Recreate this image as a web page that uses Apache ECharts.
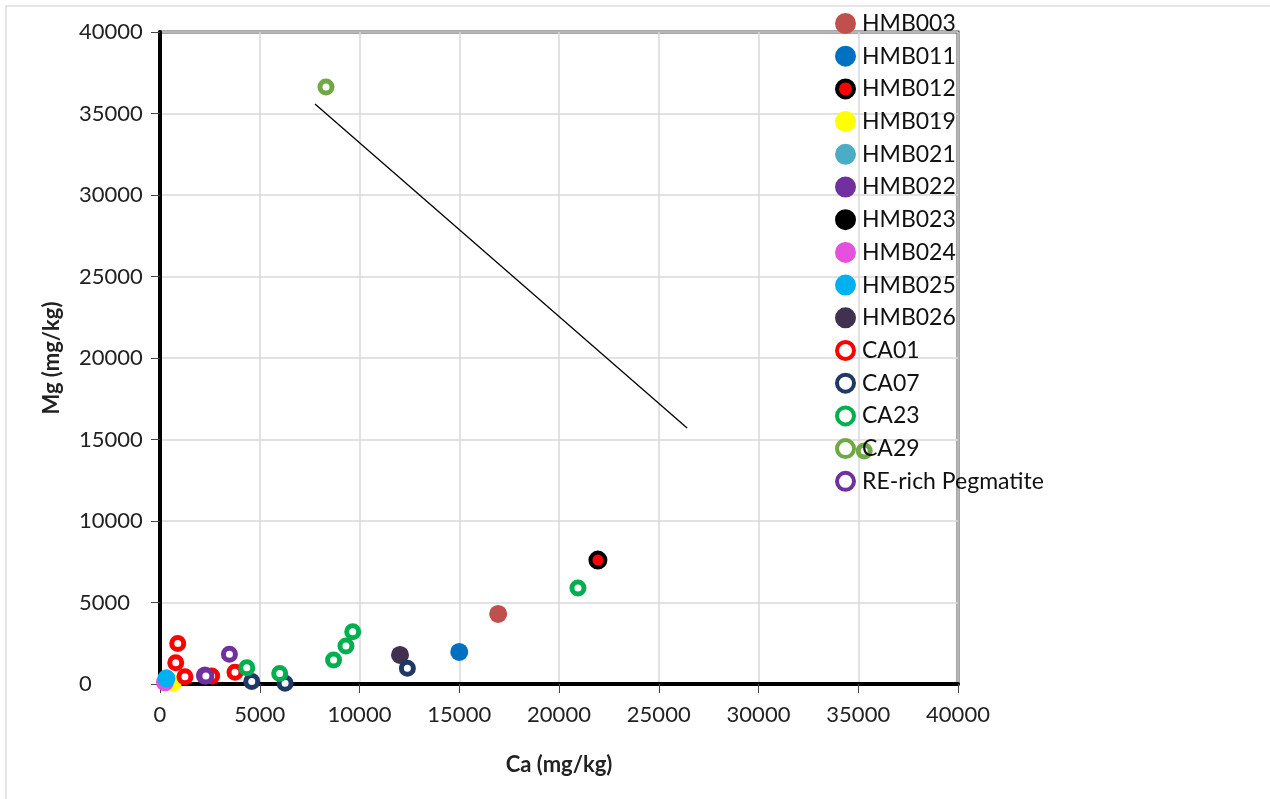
<!DOCTYPE html>
<html>
<head>
<meta charset="utf-8">
<script src="https://cdn.jsdelivr.net/npm/echarts@6/dist/echarts.min.js"></script>
<style>
  html,body{margin:0;padding:0;background:#fff;}
  #frame{position:absolute;left:5px;top:5px;width:1270px;height:799px;border-top:2px solid #e6e6e6;border-left:2px solid #e6e6e6;}
  #main{position:absolute;left:0;top:0;width:1270px;height:799px;}
</style>
</head>
<body>
<div id="frame"></div>
<div id="main"></div>
<script>
// Ca (x) vs Mg (y), mg/kg
var HMB003 = [[16950, 4300]];
var HMB011 = [[15000, 1970]];
var HMB012 = [[21950, 7600]];
var HMB019 = [[650, 80]];
var HMB021 = [];
var HMB022 = [[2250, 520]];
var HMB023 = [];
var HMB024 = [[250, 100]];
var HMB025 = [[320, 350]];
var HMB026 = [[12030, 1780]];
var CA01 = [[890, 2480], [790, 1300], [1250, 450], [2590, 490], [3760, 720]];
var CA07 = [[4600, 150], [6270, 40], [12400, 960]];
var CA23 = [[4350, 1000], [6000, 650], [8700, 1470], [9320, 2330], [9660, 3210], [20950, 5890]];
var CA29 = [[8320, 36630], [35300, 14290]];
var RE_rich = [[2300, 490], [3480, 1820]];
var trendLine = [[7770, 35580], [26420, 15700]];

var xTicks = [0, 40000, 5000];
var yTicks = [0, 40000, 5000];

var font = 'Lato';

function filled(name, data, color, border) {
    return {
        name: name, type: 'scatter', data: data, symbol: 'circle', symbolSize: border ? 15 : 18,
        itemStyle: {color: color, opacity: 1, borderColor: border || color, borderWidth: border ? 4 : 0}
    };
}
function ring(name, data, color) {
    return {
        name: name, type: 'scatter', data: data, symbol: 'circle', symbolSize: 12,
        itemStyle: {color: '#fff', opacity: 1, borderColor: color, borderWidth: 5}
    };
}
function plain(v) { return String(v); }

var series = [
    {name: 'line', type: 'line', data: trendLine, symbol: 'none', silent: true,
     lineStyle: {color: '#000', width: 1.3}, z: 1},
    filled('HMB003', HMB003, '#C0504D'),
    filled('HMB011', HMB011, '#0070C0'),
    filled('HMB012', HMB012, '#FF0000', '#000'),
    filled('HMB019', HMB019, '#FFFF00'),
    filled('HMB021', HMB021, '#4BACC6'),
    filled('HMB022', HMB022, '#7030A0'),
    filled('HMB023', HMB023, '#000000'),
    filled('HMB024', HMB024, '#E650DE'),
    filled('HMB025', HMB025, '#00B0F0'),
    filled('HMB026', HMB026, '#403151'),
    ring('CA01', CA01, '#FF0000'),
    ring('CA07', CA07, '#1F3864'),
    ring('CA23', CA23, '#00B050'),
    ring('CA29', CA29, '#70A845'),
    ring('RE-rich Pegmatite', RE_rich, '#7030A0')
];
// cyan point sits above the small ones under it
series[9].z = 3;

var chart = echarts.init(document.getElementById('main'));
var option = {
    animation: false,
    grid: {left: 160, right: 312, top: 32, bottom: 115, show: true, borderColor: '#505050', borderWidth: 3},
    legend: {
        orient: 'vertical', left: 830, top: 7, itemGap: 9.7, itemWidth: 17, itemHeight: 17,
        icon: 'circle', data: series.slice(1).map(function (s) { return s.name; }),
        itemStyle: {borderWidth: 4},
        textStyle: {fontFamily: font, fontSize: 23, color: '#111', padding: [0, 0, 0, 3]}
    },
    xAxis: [{
        type: 'value', min: xTicks[0], max: xTicks[1], interval: xTicks[2],
        name: 'Ca (mg/kg)', nameLocation: 'middle', nameGap: 70,
        nameTextStyle: {fontFamily: font, fontSize: 22, fontWeight: 'bold', color: '#222'},
        axisLine: {onZero: false, lineStyle: {color: '#000', width: 4}},
        axisTick: {show: true, length: 9, lineStyle: {color: '#444'}},
        axisLabel: {fontFamily: font, fontSize: 22, color: '#222', margin: 20, formatter: plain},
        splitLine: {lineStyle: {color: '#d9d9d9', width: 1.5}}
    }],
    yAxis: [{
        type: 'value', min: yTicks[0], max: yTicks[1], interval: yTicks[2],
        name: 'Mg (mg/kg)', nameLocation: 'middle', nameGap: 97,
        nameTextStyle: {fontFamily: font, fontSize: 22, fontWeight: 'bold', color: '#222'},
        axisLine: {onZero: false, lineStyle: {color: '#000', width: 4}},
        axisTick: {show: true, length: 9, lineStyle: {color: '#444'}},
        axisLabel: {fontFamily: font, fontSize: 22, color: '#222', margin: 81, align: 'left', formatter: plain},
        splitLine: {lineStyle: {color: '#d9d9d9', width: 1.5}}
    }],
    series: series
};
chart.setOption(option);
</script>
</body>
</html>
